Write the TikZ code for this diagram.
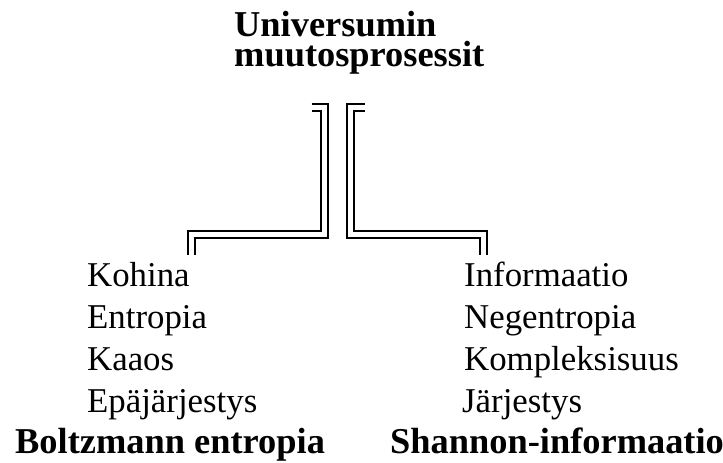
\documentclass[tikz,border=0pt]{standalone}
\usepackage{fontspec}
\setmainfont{Liberation Serif}
\begin{document}
\begin{tikzpicture}[x=1pt,y=-1pt,
  dbl/.style={double, double distance=4.7pt, line width=2.1pt, line join=miter, line cap=butt},
  reg/.style={anchor=base west, inner sep=0pt, font=\fontsize{34.8}{40}\selectfont},
  bld/.style={anchor=base west, inner sep=0pt, font=\fontsize{36.4}{40}\selectfont\bfseries}]
\useasboundingbox (0,0) rectangle (723,463);
\node[bld, align=left, font=\fontsize{36.4}{30}\selectfont\bfseries] (t) at (234,66.5) {Universumin\\muutosprosessit};

\node[reg] (k1) at (87,286) {Kohina};
\node[reg] (k2) at (87,328.5) {Entropia};
\node[reg] (k3) at (87,370) {Kaaos};
\node[reg] (k4) at (87,412) {Epäjärjestys};
\node[bld] (kb) at (15,453) {Boltzmann entropia};

\node[reg] (i1) at (464,286) {Informaatio};
\node[reg] (i2) at (464,328.5) {Negentropia};
\node[reg] (i3) at (464,370) {Kompleksisuus};
\node[reg] (i4) at (462,412) {Järjestys};
\node[bld] (ib) at (390,453) {Shannon-informaatio};

\coordinate (lt) at (311.5,107.5);
\coordinate (lc) at (324.3,234.5);
\coordinate (lb) at (191.5,255);
\coordinate (rt) at (365,107.5);
\coordinate (rc) at (350.3,234.5);
\coordinate (rb) at (483.3,255);
\draw[dbl] (lt) -| (lc) -| (lb);
\draw[dbl] (rt) -| (rc) -| (rb);
\end{tikzpicture}
\end{document}
